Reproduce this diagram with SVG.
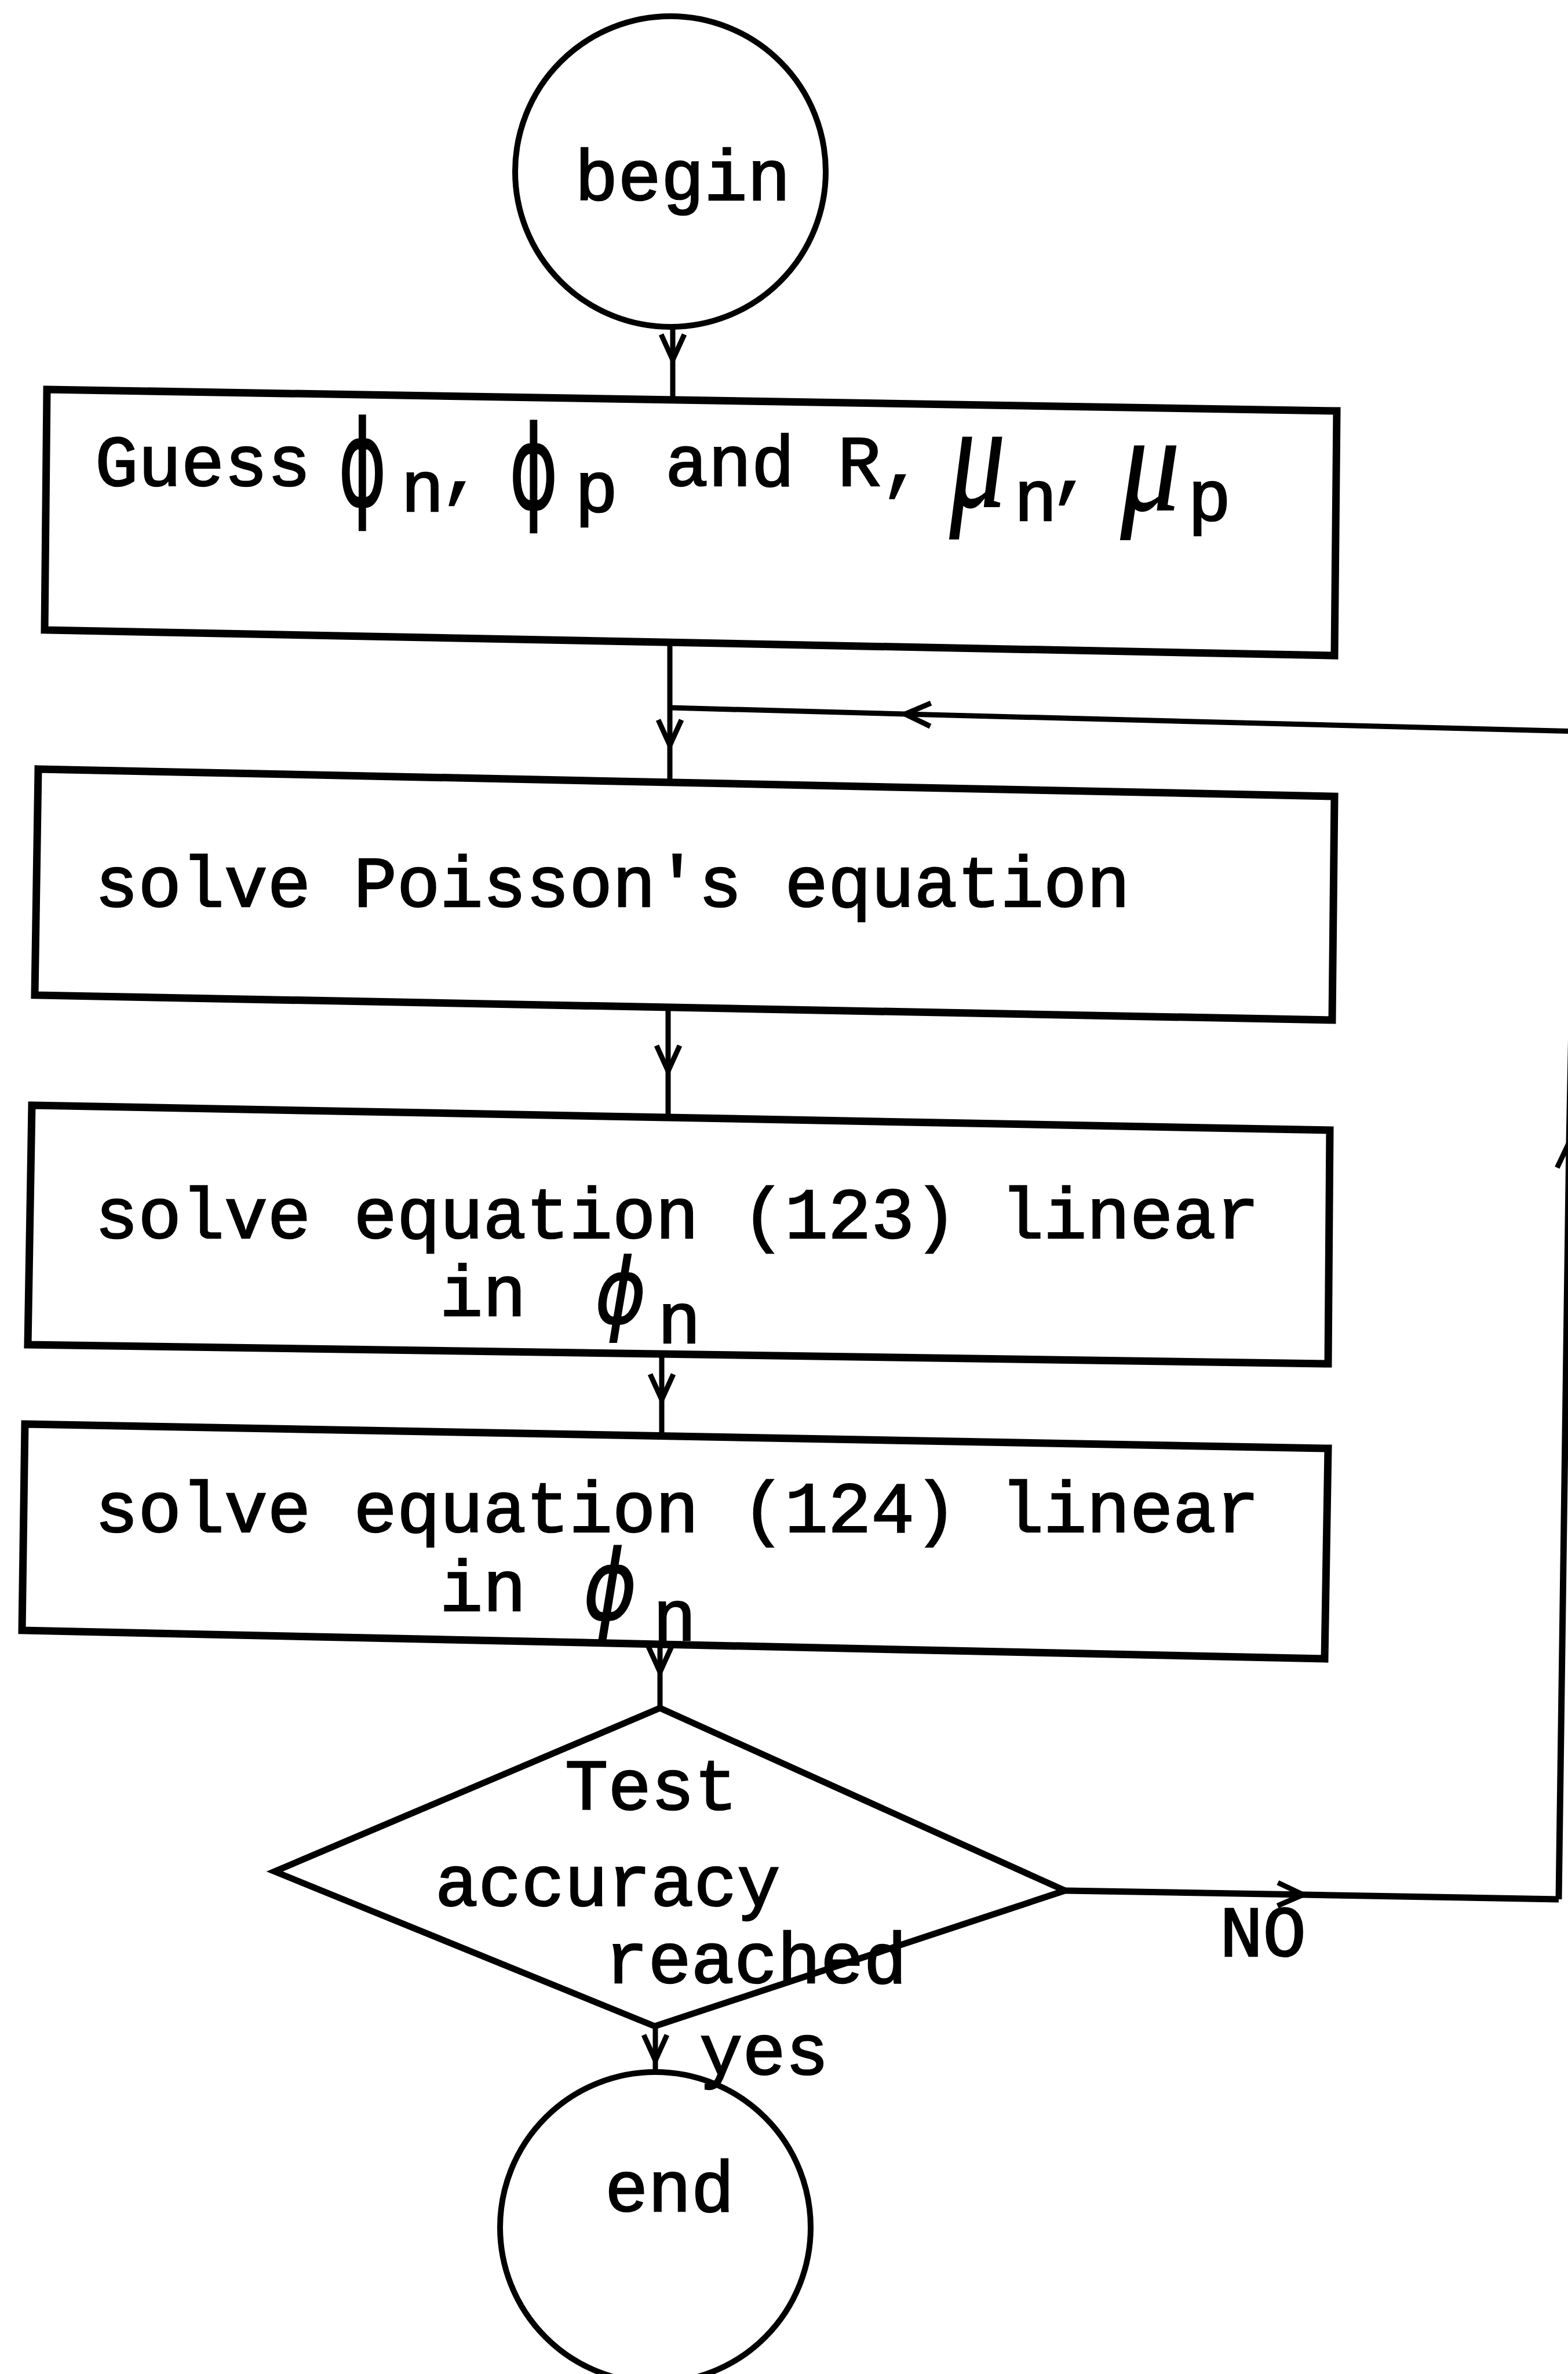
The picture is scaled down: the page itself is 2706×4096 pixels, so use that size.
<svg xmlns="http://www.w3.org/2000/svg" width="2706" height="4096" viewBox="0 0 2706 4096">
<defs>
<style>
.bg{fill:#fff}
.box{fill:none;stroke:#000;stroke-width:13;stroke-linejoin:miter}
.circ{fill:none;stroke:#000;stroke-width:10}
.con{fill:none;stroke:#000;stroke-width:9;marker-mid:url(#ah)}
.t{font-family:"Liberation Mono","Courier New",monospace;font-size:124px;fill:#000;stroke:#000;stroke-width:2.5}
.phi{font-family:"DejaVu Sans","Noto Sans",sans-serif;font-size:124px;fill:#000;stroke:#000;stroke-width:1.5}
.mu{font-family:"Liberation Serif","DejaVu Serif",serif;font-style:italic;font-size:124px;fill:#000;stroke:#000;stroke-width:1}
</style>
<marker id="ah" markerUnits="userSpaceOnUse" markerWidth="70" markerHeight="70" viewBox="-55 -35 70 70" refX="0" refY="0" orient="auto" overflow="visible">
<path d="M-44,-20 L0,0 L-44,20" fill="none" stroke="#000" stroke-width="9" stroke-linejoin="miter"/>
</marker>
</defs>
<rect class="bg" x="0" y="0" width="2706" height="4096"/>

<g id="connectors">
<path class="con" d="M1161,563 L1161,621 L1161,690"/>
<path class="con" d="M1156,1108 L1156,1286 L1156,1350"/>
<path class="con" d="M1153,1738 L1153,1848 L1153,1928"/>
<path class="con" d="M1142,2336 L1142,2415 L1142,2478"/>
<path class="con" d="M1139,2837 L1139,2885 L1139,2947"/>
<path class="con" d="M1131,3496 L1131,3555 L1131,3575"/>
<path class="con" d="M1838,3262 L2249,3269 L2690,3277" style="stroke-width:11"/>
<path class="con" d="M2690,3277 L2708,1971 L2722,1262" style="stroke-width:11"/>
<path class="con" d="M2722,1262 L1562,1232 L1156,1221"/>
<text class="t" x="2105" y="3375">NO</text>
<text class="t" x="1207" y="3579">yes</text>
</g>

<g id="begin">
<circle class="circ" cx="1157" cy="296" r="268"/>
<text class="t" x="992" y="345">begin</text>
</g>

<g id="guess">
<polygon class="box" points="81,672 2307,709 2303,1131 77,1087"/>
<text class="t" x="164" y="838">Guess</text>
<text class="phi" transform="translate(584,872) scale(1,1.653)" textLength="83" lengthAdjust="spacingAndGlyphs">ϕ</text>
<text class="t" x="692" y="882">n</text>
<text class="t" x="760" y="850">,</text>
<text class="phi" transform="translate(879,877) scale(1,1.613)" textLength="84" lengthAdjust="spacingAndGlyphs">ϕ</text>
<text class="t" x="992" y="883">p</text>
<text class="t" x="1148" y="838">and R,</text>
<text class="mu" transform="translate(1639,874) scale(1,2.097)" textLength="96" lengthAdjust="spacingAndGlyphs">μ</text>
<text class="t" x="1750" y="898">n</text>
<text class="t" x="1813" y="849">,</text>
<text class="mu" transform="translate(1934,880) scale(1,1.935)" textLength="102" lengthAdjust="spacingAndGlyphs">μ</text>
<text class="t" x="2050" y="898">p</text>
</g>

<g id="poisson">
<polygon class="box" points="66,1327 2303,1374 2299,1760 60,1717"/>
<text class="t" x="164" y="1564">solve Poisson's equation</text>
</g>

<g id="eq123">
<polygon class="box" points="55,1907 2295,1950 2292,2353 48,2320"/>
<text class="t" x="164" y="2136">solve equation (123) linear</text>
<text class="t" x="759" y="2270">in</text>
<text class="phi" transform="translate(1027,2283) scale(1,1.266)" font-style="italic" textLength="88" lengthAdjust="spacingAndGlyphs">ϕ</text>
<text class="t" x="1135" y="2317">n</text>
</g>

<g id="eq124">
<polygon class="box" points="43,2457 2292,2499 2286,2862 38,2813"/>
<text class="t" x="164" y="2643">solve equation (124) linear</text>
<text class="t" x="759" y="2779">in</text>
<text class="phi" transform="translate(1007,2794) scale(1,1.347)" font-style="italic" textLength="92" lengthAdjust="spacingAndGlyphs">ϕ</text>
<text class="t" x="1127" y="2830">n</text>
</g>

<g id="test">
<polygon class="box" points="1139,2947 1838,3262 1130,3496 474,3229" style="stroke-width:11"/>
<text class="t" x="975" y="3122">Test</text>
<text class="t" x="751" y="3288">accuracy</text>
<text class="t" x="1044" y="3421">reached</text>
</g>

<g id="end">
<circle class="circ" cx="1131" cy="3843" r="268"/>
<text class="t" x="1044" y="3815">end</text>
</g>
</svg>
